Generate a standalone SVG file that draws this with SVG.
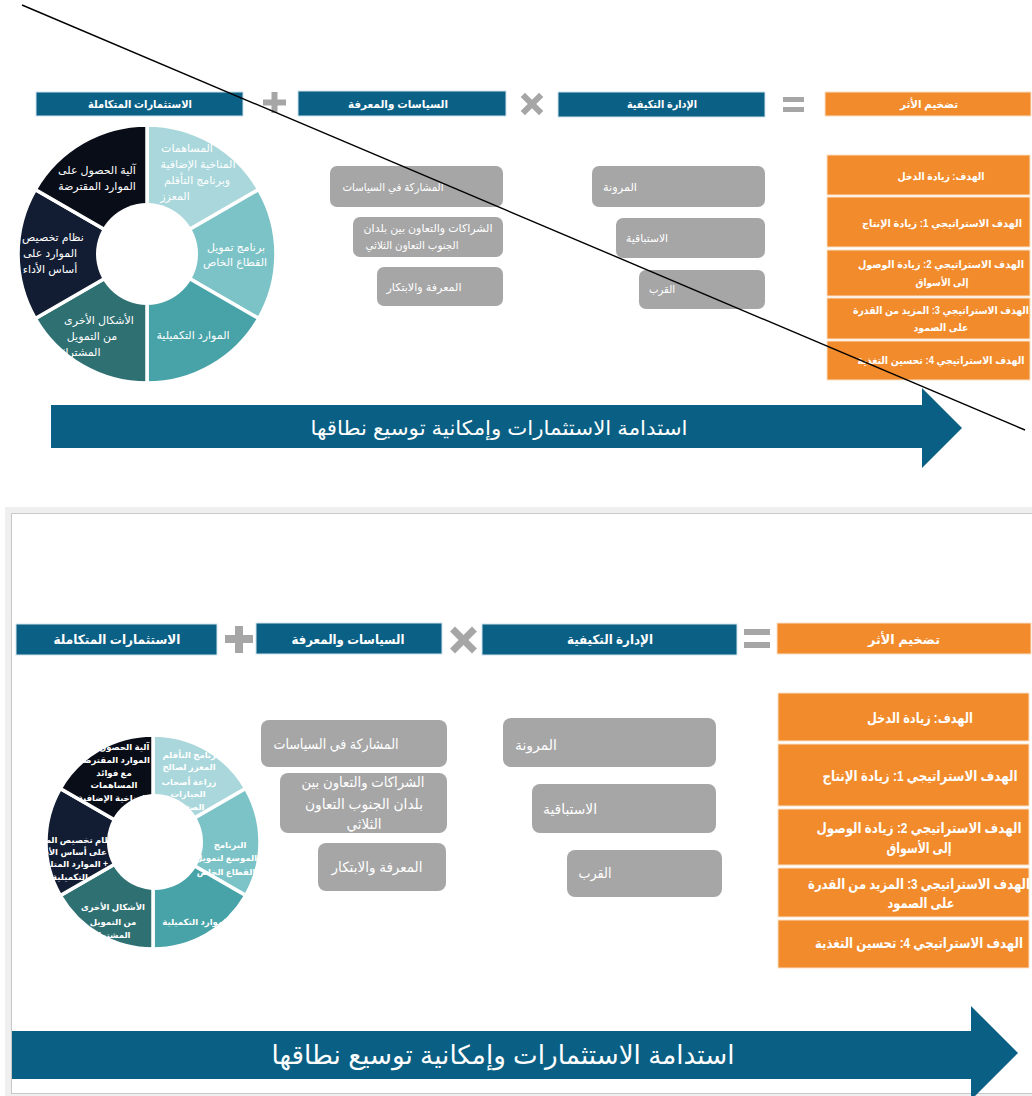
<svg xmlns="http://www.w3.org/2000/svg" width="1032" height="1096" viewBox="0 0 1032 1096">
<style>
text{font-family:'Liberation Sans','DejaVu Sans',sans-serif;fill:#fff;direction:rtl;text-anchor:middle}
.hd{fill:#0b6086;stroke:#cfe3ec;stroke-width:1}
.or{fill:#f18b2b;stroke:#fbe1c8;stroke-width:1}
.gb{fill:#a6a6a6}
.op{fill:#a6a6a6}
.seg{stroke:#fff;stroke-width:3.5}
.arrow{fill:#0a6084}
.b{font-weight:bold}
.f10{font-size:10.5px}.f11{font-size:11px}.f13{font-size:13px}.f14{font-size:14px}.f9{font-size:8.5px}
</style>
<rect width="1032" height="1096" fill="#fff"/>
<!-- bottom frame -->
<rect x="5" y="507" width="1027" height="589" fill="#efefef"/>
<rect x="11" y="513" width="1021" height="580" fill="#fff"/>
<path d="M11.5,1093 V513.5 H1032 M11,1093.5 H1032" fill="none" stroke="#c8c8c8" stroke-width="1"/>

<!-- ============ TOP PANEL ============ -->
<g id="top-header-investments"><rect class="hd" x="36" y="92" width="207" height="24"/><text class="f11 b" x="140" y="108" textLength="104" lengthAdjust="spacingAndGlyphs">الاستثمارات المتكاملة</text></g>
<g id="top-op-plus"><rect class="op" x="263" y="99.5" width="23" height="6"/><rect class="op" x="271.5" y="92" width="6" height="21"/></g>
<g id="top-header-policies"><rect class="hd" x="298" y="91" width="208" height="25"/><text class="f11 b" x="398" y="108" textLength="100" lengthAdjust="spacingAndGlyphs">السياسات والمعرفة</text></g>
<g id="top-op-times" transform="translate(532,104) rotate(45)"><rect class="op" x="-13" y="-3" width="26" height="6"/><rect class="op" x="-3" y="-13" width="6" height="26"/></g>
<g id="top-header-adaptive"><rect class="hd" x="558" y="92" width="207" height="25"/><text class="f11 b" x="662" y="108" textLength="70" lengthAdjust="spacingAndGlyphs">الإدارة التكيفية</text></g>
<g id="top-op-equals"><rect class="op" x="783" y="97" width="21" height="5"/><rect class="op" x="783" y="107" width="21" height="5"/></g>
<g id="top-header-impact"><rect class="or" x="825" y="92" width="206" height="24"/><text class="f11 b" x="929" y="108" textLength="58" lengthAdjust="spacingAndGlyphs">تضخيم الأثر</text></g>

<g id="top-donut">
<path class="seg" fill="#a9d7db" d="M147,125 A129,129 0 0 1 258.7,189.5 L147,254 Z"/>
<path class="seg" fill="#7cc3c7" d="M258.7,189.5 A129,129 0 0 1 258.7,318.5 L147,254 Z"/>
<path class="seg" fill="#47a3a8" d="M258.7,318.5 A129,129 0 0 1 147,383 L147,254 Z"/>
<path class="seg" fill="#2f7073" d="M147,383 A129,129 0 0 1 35.3,318.5 L147,254 Z"/>
<path class="seg" fill="#121d33" d="M35.3,318.5 A129,129 0 0 1 35.3,189.5 L147,254 Z"/>
<path class="seg" fill="#080d17" d="M35.3,189.5 A129,129 0 0 1 147,125 L147,254 Z"/>
<g class="f11">
<text x="187" y="152">المساهمات</text>
<text x="198" y="168">المناخية الإضافية</text>
<text x="197" y="184">وبرنامج التأقلم</text>
<text x="175" y="200">المعزز</text>
<text x="236" y="251">برنامج تمويل</text>
<text x="235" y="266">القطاع الخاص</text>
<text x="193" y="339">الموارد التكميلية</text>
<text x="99" y="324">الأشكال الأخرى</text>
<text x="92" y="340">من التمويل</text>
<text x="80" y="356">المشترك</text>
<text x="53" y="241">نظام تخصيص</text>
<text x="50" y="257">الموارد على</text>
<text x="50" y="273">أساس الأداء</text>
<text x="97" y="174">آلية الحصول على</text>
<text x="97" y="190">الموارد المقترضة</text>
</g>
<circle cx="147" cy="254" r="51" fill="#fff"/>
</g>

<g id="top-policy-1"><rect class="gb" x="330" y="166" width="173" height="41" rx="7"/><text class="f11" x="393" y="191" textLength="101" lengthAdjust="spacingAndGlyphs">المشاركة في السياسات</text></g>
<g id="top-policy-2"><rect class="gb" x="353" y="217" width="150" height="40" rx="7"/><text class="f11" x="428" y="232" textLength="129" lengthAdjust="spacingAndGlyphs">الشراكات والتعاون بين بلدان</text><text class="f11" x="412" y="249" textLength="93" lengthAdjust="spacingAndGlyphs">الجنوب التعاون الثلاثي</text></g>
<g id="top-policy-3"><rect class="gb" x="377" y="267" width="126" height="39" rx="7"/><text class="f11" x="424" y="291" textLength="75" lengthAdjust="spacingAndGlyphs">المعرفة والابتكار</text></g>

<g id="top-adaptive-1"><rect class="gb" x="592" y="166" width="173" height="41" rx="7"/><text class="f11" x="620" y="191" textLength="34" lengthAdjust="spacingAndGlyphs">المرونة</text></g>
<g id="top-adaptive-2"><rect class="gb" x="616" y="218" width="149" height="40" rx="7"/><text class="f11" x="647" y="242" textLength="42" lengthAdjust="spacingAndGlyphs">الاستباقية</text></g>
<g id="top-adaptive-3"><rect class="gb" x="639" y="270" width="126" height="39" rx="7"/><text class="f11" x="662" y="293" textLength="26" lengthAdjust="spacingAndGlyphs">القرب</text></g>

<g id="top-goal-0"><rect class="or" x="827" y="155" width="203" height="40"/><text class="f10 b" x="941" y="180" textLength="87" lengthAdjust="spacingAndGlyphs">الهدف: زيادة الدخل</text></g>
<g id="top-goal-1"><rect class="or" x="827" y="197" width="203" height="50"/><text class="f10 b" x="942" y="227" textLength="160" lengthAdjust="spacingAndGlyphs">الهدف الاستراتيجي 1: زيادة الإنتاج</text></g>
<g id="top-goal-2"><rect class="or" x="827" y="250" width="203" height="46"/><text class="f10 b" x="941" y="268" textLength="166" lengthAdjust="spacingAndGlyphs">الهدف الاستراتيجي 2: زيادة الوصول</text><text class="f10 b" x="942" y="286" textLength="53" lengthAdjust="spacingAndGlyphs">إلى الأسواق</text></g>
<g id="top-goal-3"><rect class="or" x="827" y="298" width="203" height="41"/><text class="f10 b" x="941" y="314" textLength="176" lengthAdjust="spacingAndGlyphs">الهدف الاستراتيجي 3: المزيد من القدرة</text><text class="f10 b" x="941" y="331" textLength="55" lengthAdjust="spacingAndGlyphs">على الصمود</text></g>
<g id="top-goal-4"><rect class="or" x="827" y="341" width="203" height="39"/><text class="f10 b" x="941" y="364" textLength="167" lengthAdjust="spacingAndGlyphs">الهدف الاستراتيجي 4: تحسين التغذية</text></g>

<g id="top-arrow"><polygon class="arrow" points="51,405 922,405 922,388 962,428 922,468 922,448 51,448"/><text x="499" y="435" style="font-size:20px" textLength="377" lengthAdjust="spacingAndGlyphs">استدامة الاستثمارات وإمكانية توسيع نطاقها</text></g>

<g id="connectors"><line x1="22" y1="5" x2="1025" y2="430" stroke="#000" stroke-width="1.4"/></g>

<!-- ============ BOTTOM PANEL ============ -->
<g id="bot-header-investments"><rect class="hd" x="16" y="624" width="201" height="31"/><text class="f13 b" x="117" y="644" textLength="127" lengthAdjust="spacingAndGlyphs">الاستثمارات المتكاملة</text></g>
<g id="bot-op-plus"><rect class="op" x="225" y="635" width="28" height="8"/><rect class="op" x="235" y="626" width="8" height="27"/></g>
<g id="bot-header-policies"><rect class="hd" x="256" y="623" width="186" height="31"/><text class="f13 b" x="348" y="644" textLength="113" lengthAdjust="spacingAndGlyphs">السياسات والمعرفة</text></g>
<g id="bot-op-times" transform="translate(463.5,640) rotate(45)"><rect class="op" x="-15.5" y="-3.5" width="31" height="7"/><rect class="op" x="-3.5" y="-15.5" width="7" height="31"/></g>
<g id="bot-header-adaptive"><rect class="hd" x="482" y="624" width="255" height="31"/><text class="f13 b" x="610" y="644" textLength="86" lengthAdjust="spacingAndGlyphs">الإدارة التكيفية</text></g>
<g id="bot-op-equals"><rect class="op" x="744" y="629" width="26" height="6"/><rect class="op" x="744" y="642" width="26" height="6"/></g>
<g id="bot-header-impact"><rect class="or" x="777" y="623" width="254" height="31"/><text class="f13 b" x="904" y="644" textLength="72" lengthAdjust="spacingAndGlyphs">تضخيم الأثر</text></g>

<g id="bot-donut">
<path class="seg" fill="#a9d7db" d="M153,735 A107,107 0 0 1 245.7,788.5 L153,842 Z"/>
<path class="seg" fill="#7cc3c7" d="M245.7,788.5 A107,107 0 0 1 245.7,895.5 L153,842 Z"/>
<path class="seg" fill="#47a3a8" d="M245.7,895.5 A107,107 0 0 1 153,949 L153,842 Z"/>
<path class="seg" fill="#2f7073" d="M153,949 A107,107 0 0 1 60.3,895.5 L153,842 Z"/>
<path class="seg" fill="#121d33" d="M60.3,895.5 A107,107 0 0 1 60.3,788.5 L153,842 Z"/>
<path class="seg" fill="#080d17" d="M60.3,788.5 A107,107 0 0 1 153,735 L153,842 Z"/>
<g class="f9 b">
<text x="191" y="758">برنامج التأقلم</text>
<text x="189" y="770">المعزز لصالح</text>
<text x="189" y="785">زراعة أصحاب</text>
<text x="188" y="797">الحيازات</text>
<text x="188" y="810">الصغيرة</text>
<text x="230" y="848">البرنامج</text>
<text x="226" y="861">الموسع لتمويل</text>
<text x="226" y="875">القطاع الخاص</text>
<text x="196" y="925">الموارد التكميلية</text>
<text x="113" y="910">الأشكال الأخرى</text>
<text x="113" y="925">من التمويل</text>
<text x="112" y="938">المشترك</text>
<text x="72" y="843">نظام تخصيص الموارد</text>
<text x="72" y="855">على أساس الأداء</text>
<text x="72" y="867">+ الموارد المتلقاة</text>
<text x="70" y="880">التكميلية</text>
<text x="114" y="750">آلية الحصول على</text>
<text x="114" y="763">الموارد المقترضة</text>
<text x="114" y="776">مع فوائد</text>
<text x="114" y="788">المساهمات</text>
<text x="113" y="801">المناخية الإضافية</text>
</g>
<circle cx="155" cy="842" r="48" fill="#fff"/>
</g>

<g id="bot-policy-1"><rect class="gb" x="261" y="720" width="186" height="47" rx="8"/><text class="f14" x="336" y="749" textLength="125" lengthAdjust="spacingAndGlyphs">المشاركة في السياسات</text></g>
<g id="bot-policy-2"><rect class="gb" x="280" y="773" width="167" height="60" rx="8"/><text class="f14" x="363" y="787" textLength="123" lengthAdjust="spacingAndGlyphs">الشراكات والتعاون بين</text><text class="f14" x="364" y="809" textLength="118" lengthAdjust="spacingAndGlyphs">بلدان الجنوب التعاون</text><text class="f14" x="364" y="829" textLength="35" lengthAdjust="spacingAndGlyphs">الثلاثي</text></g>
<g id="bot-policy-3"><rect class="gb" x="318" y="843" width="128" height="48" rx="8"/><text class="f14" x="377" y="872" textLength="91" lengthAdjust="spacingAndGlyphs">المعرفة والابتكار</text></g>

<g id="bot-adaptive-1"><rect class="gb" x="503" y="718" width="213" height="49" rx="8"/><text class="f14" x="536" y="750" textLength="42" lengthAdjust="spacingAndGlyphs">المرونة</text></g>
<g id="bot-adaptive-2"><rect class="gb" x="532" y="784" width="184" height="49" rx="8"/><text class="f14" x="570" y="814" textLength="54" lengthAdjust="spacingAndGlyphs">الاستباقية</text></g>
<g id="bot-adaptive-3"><rect class="gb" x="567" y="850" width="155" height="47" rx="8"/><text class="f14" x="595" y="878" textLength="33" lengthAdjust="spacingAndGlyphs">القرب</text></g>

<g id="bot-goal-0"><rect class="or" x="778" y="693" width="251" height="48"/><text class="f14 b" x="920" y="723" textLength="106" lengthAdjust="spacingAndGlyphs">الهدف: زيادة الدخل</text></g>
<g id="bot-goal-1"><rect class="or" x="778" y="744" width="251" height="62"/><text class="f14 b" x="920" y="781" textLength="195" lengthAdjust="spacingAndGlyphs">الهدف الاستراتيجي 1: زيادة الإنتاج</text></g>
<g id="bot-goal-2"><rect class="or" x="778" y="809" width="251" height="56"/><text class="f14 b" x="919" y="833" textLength="205" lengthAdjust="spacingAndGlyphs">الهدف الاستراتيجي 2: زيادة الوصول</text><text class="f14 b" x="919" y="853" textLength="65" lengthAdjust="spacingAndGlyphs">إلى الأسواق</text></g>
<g id="bot-goal-3"><rect class="or" x="778" y="868" width="251" height="49"/><text class="f14 b" x="919" y="889" textLength="222" lengthAdjust="spacingAndGlyphs">الهدف الاستراتيجي 3: المزيد من القدرة</text><text class="f14 b" x="921" y="908" textLength="67" lengthAdjust="spacingAndGlyphs">على الصمود</text></g>
<g id="bot-goal-4"><rect class="or" x="778" y="920" width="251" height="48"/><text class="f14 b" x="919" y="948" textLength="208" lengthAdjust="spacingAndGlyphs">الهدف الاستراتيجي 4: تحسين التغذية</text></g>

<g id="bot-arrow"><polygon class="arrow" points="12,1031 971,1031 971,1006 1018,1053 971,1100 971,1079 12,1079"/><text x="503" y="1064" style="font-size:26px" textLength="463" lengthAdjust="spacingAndGlyphs">استدامة الاستثمارات وإمكانية توسيع نطاقها</text></g>
</svg>
